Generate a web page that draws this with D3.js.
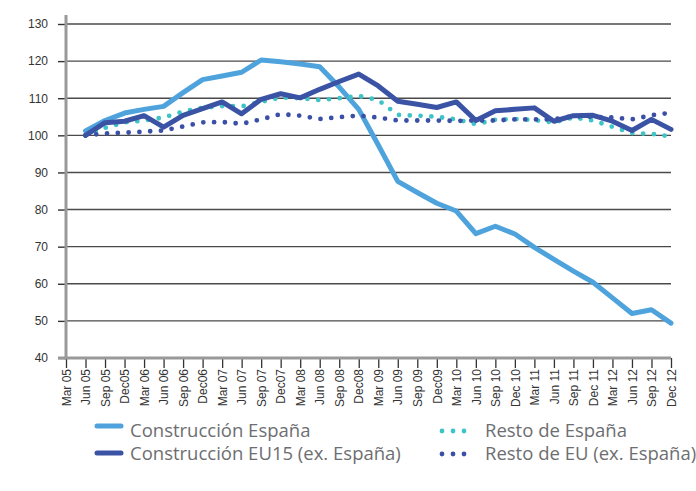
<!DOCTYPE html>
<html>
<head>
<meta charset="utf-8">
<script src="https://cdn.jsdelivr.net/npm/d3@7"></script>
<style>
  html, body { margin: 0; padding: 0; background: #fff; }
  svg { display: block; font-family: "Open Sans", "Noto Sans", sans-serif; }
</style>
</head>
<body>
<svg id="chart" width="696" height="491"></svg>
<script>
// Quarterly index (Jun 05 = 100)
const quarters = ["Mar 05","Jun 05","Sep 05","Dec05","Mar 06","Jun 06","Sep 06","Dec06",
  "Mar 07","Jun 07","Sep 07","Dec07","Mar 08","Jun 08","Sep 08","Dec08",
  "Mar 09","Jun 09","Sep 09","Dec09","Mar 10","Jun 10","Sep 10","Dec 10",
  "Mar 11","Jun 11","Sep 11","Dec 11","Mar 12","Jun 12","Sep 12","Dec 12"];

// series begin at Jun 05
const construccionEspana = [101.2,104,106,107,107.8,111.5,115,116,117,120.3,119.8,119.2,118.5,113,107,
  97.4,87.6,84.6,81.7,79.6,73.5,75.5,73.4,69.8,66.6,63.4,60.4,56.2,52,53,49.4];
const construccionEU15 = [100,103.4,103.8,105.3,102.2,105.4,107.2,109,105.8,109.7,111.2,110.1,112.4,114.5,116.5,
  113.3,109.2,108.4,107.5,109,104,106.6,107,107.4,103.8,105.3,105.4,103.8,101.3,104.3,101.6];
const restoEspana = [100,102,103.5,104,104.8,106.4,107.4,107.9,107.8,109,110.2,110,109.5,110,110.6,
  109.5,105.5,105.3,105,104.3,103,104.2,104.4,104.1,103.5,104.8,104,102.3,100.6,100.4,99.7];
const restoEU = [100,100.5,100.7,101,101.3,102.4,103.5,103.6,103.1,104.3,105.7,105.3,104.4,104.9,105.3,
  104.8,104,104,104,103.9,104,104,104.3,104.3,104.3,105.2,105,104.8,104.3,105.4,106.1];

const yTicks = [40,50,60,70,80,90,100,110,120,130];

const svg = d3.select("#chart");

const x = d3.scalePoint().domain(quarters).range([66, 671]);
const y = d3.scaleLinear().domain([40, 130]).range([358, 24]);

// horizontal grid
svg.append("g")
  .selectAll("line")
  .data(yTicks.filter(d => d > 40))
  .join("line")
  .attr("x1", x.range()[0]).attr("x2", x.range()[1])
  .attr("y1", d => y(d)).attr("y2", d => y(d))
  .attr("stroke", "#4a4a4a").attr("stroke-width", 1.4);

// y axis
const yAxis = svg.append("g")
  .attr("transform", `translate(${x.range()[0]},0)`)
  .call(d3.axisLeft(y).tickValues(yTicks).tickSize(8).tickPadding(10));
yAxis.select(".domain").remove();
yAxis.selectAll(".tick line").attr("stroke", "#333").attr("stroke-width", 1.4);
yAxis.selectAll(".tick text").attr("fill", "#333").style("font-size", "12px");
svg.append("line")
  .attr("x1", x.range()[0]).attr("x2", x.range()[0])
  .attr("y1", 15).attr("y2", y(40) + 1.5)
  .attr("stroke", "#999").attr("stroke-width", 3);

// x axis
const xAxis = svg.append("g")
  .attr("transform", `translate(0,${y(40)})`)
  .call(d3.axisBottom(x).tickSize(10).tickSizeOuter(0));
xAxis.select(".domain").remove();
xAxis.selectAll(".tick line").attr("stroke", "#333").attr("stroke-width", 1.3);
xAxis.selectAll(".tick text")
  .attr("fill", "#333").style("font-size", "12px")
  .attr("text-anchor", "end")
  .attr("transform", "rotate(-90)")
  .attr("x", -11).attr("y", 0).attr("dy", "0.35em");
svg.append("line")
  .attr("x1", x.range()[0] - 8).attr("x2", x.range()[1])
  .attr("y1", y(40)).attr("y2", y(40))
  .attr("stroke", "#999").attr("stroke-width", 3);

// series
const dataQuarters = quarters.slice(1);
const line = d3.line().x((d, i) => x(dataQuarters[i])).y(d => y(d));

const series = [
  { values: construccionEspana, color: "#4ea3dc", dotted: false },
  { values: restoEspana, color: "#3ec3c6", dotted: true },
  { values: restoEU, color: "#3a4fa5", dotted: true },
  { values: construccionEU15, color: "#3a53a4", dotted: false }
];

svg.append("g").selectAll("path")
  .data(series)
  .join("path")
  .attr("d", d => line(d.values))
  .attr("fill", "none")
  .attr("stroke", d => d.color)
  .attr("stroke-width", d => d.dotted ? 4.8 : 5)
  .attr("stroke-linejoin", "round")
  .attr("stroke-linecap", "round")
  .attr("stroke-dasharray", d => d.dotted ? "0 10.8" : null);

// legend
const legendItems = [
  { label: "Construcción España", color: "#4ea3dc", dotted: false, x: 97, y: 437, my: 426 },
  { label: "Construcción EU15 (ex. España)", color: "#3a53a4", dotted: false, x: 97, y: 460, my: 453 },
  { label: "Resto de España", color: "#3ec3c6", dotted: true, x: 442, y: 437, my: 431 },
  { label: "Resto de EU (ex. España)", color: "#3a4fa5", dotted: true, x: 442, y: 460, my: 454 }
];
const lg = svg.append("g").selectAll("g").data(legendItems).join("g");
lg.append("line")
  .attr("x1", d => d.x).attr("x2", d => d.dotted ? d.x + 33 : d.x + 24)
  .attr("y1", d => d.my).attr("y2", d => d.my)
  .attr("stroke", d => d.color)
  .attr("stroke-width", d => d.dotted ? 4.8 : 5)
  .attr("stroke-linecap", "round")
  .attr("stroke-dasharray", d => d.dotted ? "0 11" : null);
lg.append("text")
  .attr("x", d => d.dotted ? d.x + 43 : d.x + 33)
  .attr("y", d => d.y)
  .attr("fill", "#6d6e71")
  .style("font-size", "18.5px")
  .text(d => d.label);
</script>
</body>
</html>
